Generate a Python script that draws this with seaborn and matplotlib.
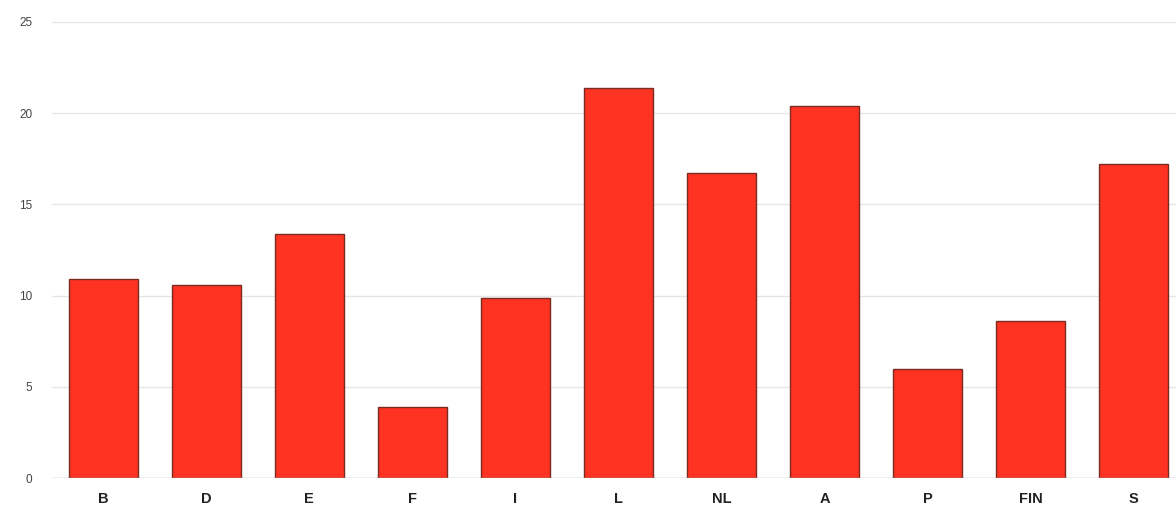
import matplotlib
matplotlib.use("Agg")
import matplotlib.pyplot as plt
import seaborn as sns
import pandas as pd

countries = ["B", "D", "E", "F", "I", "L", "NL", "A", "P", "FIN", "S"]
values = [10.9, 10.6, 13.4, 3.9, 9.9, 21.4, 16.7, 20.4, 6.0, 8.6, 17.2]
y_ticks = [0, 5, 10, 15, 20, 25]

df = pd.DataFrame({"country": countries, "value": values})

sns.set_style("white")
plt.rcParams["font.family"] = ["Liberation Sans", "DejaVu Sans"]

fig = plt.figure(figsize=(11.76, 5.21), dpi=100)
ax = fig.add_axes([0.044, 0.082, 0.956, 0.876])

sns.barplot(data=df, x="country", y="value", order=countries,
            color="#ff3322", saturation=1, width=0.67,
            edgecolor="#7a2a20", linewidth=1.0, ax=ax, zorder=3)

ax.set_ylim(0, 25)
ax.set_xlim(-0.5, 10.41)
ax.set_yticks(y_ticks)
ax.set_yticklabels([str(t) for t in y_ticks], fontsize=8.5, color="#444444")
ax.tick_params(axis="y", length=0, pad=14)
ax.tick_params(axis="x", length=0, pad=10)
for lbl in ax.get_xticklabels():
    lbl.set_fontweight("bold")
    lbl.set_fontsize(10.5)
    lbl.set_color("#222222")

for t in y_ticks[1:]:
    ax.axhline(t, color="#e6e6e6", linewidth=1.0, zorder=1)
ax.axhline(0, color="#b0b0b0", linewidth=1.0, zorder=4)

ax.set_xlabel("")
ax.set_ylabel("")
for s in ax.spines.values():
    s.set_visible(False)

fig.savefig("out.png", dpi=100, facecolor="white")
